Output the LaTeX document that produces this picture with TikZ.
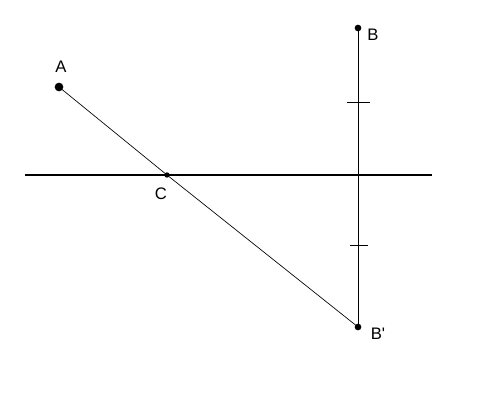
\documentclass[tikz,border=0pt]{standalone}
\usepackage{fontspec}
\setmainfont{Liberation Sans}
\begin{document}
\begin{tikzpicture}[x=0.75pt, y=-0.75pt,
  dot/.style={circle, fill, inner sep=0pt, minimum size=#1},
  lbl/.style={inner sep=0pt, font=\fontsize{12.5}{14}\selectfont}]
\useasboundingbox (0,0) rectangle (500,400);

% points
\node[dot=6.5pt] (A) at (59,87) {};
\node[dot=5pt] (B) at (358,28) {};
\node[dot=5pt] (Bp) at (358,327) {};
\node[dot=4pt] (C) at (167,175) {};
\coordinate (L) at (25,175);
\coordinate (R) at (432,175);
\coordinate (M) at (358,175);

% labels
\node[lbl] (la) at (61,67) {A};
\node[lbl] (lb) at (373,35) {B};
\node[lbl] (lc) at (161,194) {C};
\node[lbl] (lbp) at (378,334) {B\textquotesingle};

% lines
\draw[line width=1.5pt] (L) -- (R);
\draw[line width=0.75pt] (B.center) -- (Bp.center);
\draw[line width=0.5pt] (A.center) -- (C.center) -- (Bp.center);

% tick marks
\coordinate (t1) at (358,102);
\coordinate (t2) at (358,245);
\draw[line width=0.75pt] ([xshift=-8.25pt]t1) -- ([xshift=9pt]t1);
\draw[line width=0.75pt] ([xshift=-6pt]t2) -- ([xshift=7.5pt]t2);
\end{tikzpicture}
\end{document}
